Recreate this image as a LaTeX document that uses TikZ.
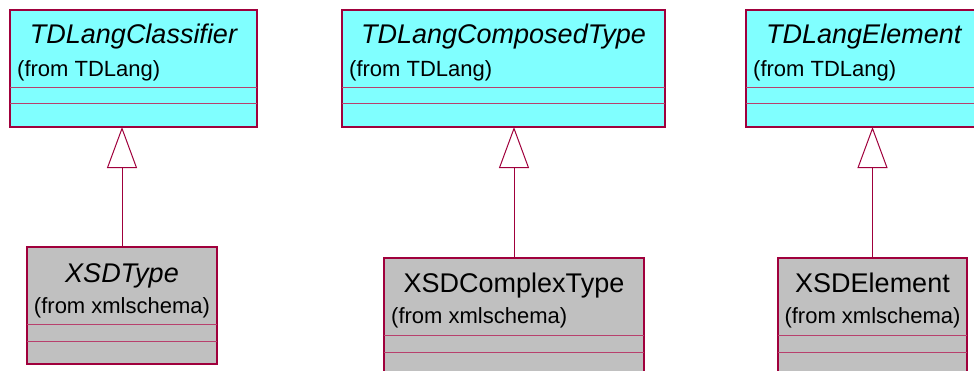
\documentclass[tikz,border=0pt]{standalone}
\usepackage{fontspec}
\setmainfont{Liberation Sans}
\usetikzlibrary{arrows.meta}
\definecolor{roseline}{RGB}{160,0,60}
\definecolor{rosecyan}{RGB}{128,255,255}
\definecolor{rosegray}{RGB}{192,192,192}
\tikzset{
  classbox/.style={draw=roseline, line width=1.2pt, minimum width=#1, minimum height=117pt,
    anchor=north west, inner sep=0pt, outer sep=0pt},
  classname/.style={anchor=base, inner sep=0pt, font=\fontsize{27}{30}\selectfont},
  fromtext/.style={anchor=base west, inner sep=0pt, font=\fontsize{22}{25}\selectfont},
  divider/.style={draw=roseline!75, line width=0.9pt},
  inherit/.style={draw=roseline, line width=1pt,
    -{Triangle[length=41pt, width=30pt, fill=white]}}
}

\begin{document}
\begin{tikzpicture}[x=1pt, y=-1pt]
\useasboundingbox (0,0) rectangle (974,370);
\clip (0,0) rectangle (974,370);

\node[classbox=247pt, fill=rosecyan] (tdc) at (10,10) {};
\node[classname, font=\fontsize{27}{30}\selectfont\itshape] (tdcname) at ([yshift=-33pt]tdc.north) {TDLangClassifier};
\node[fromtext] (tdcfrom) at ([xshift=7pt, yshift=-66pt]tdc.north west) {(from TDLang)};
\draw[divider] ([yshift=-77pt]tdc.north west) -- ([yshift=-77pt]tdc.north east);
\draw[divider] ([yshift=-93pt]tdc.north west) -- ([yshift=-93pt]tdc.north east);

\node[classbox=323pt, fill=rosecyan] (tdct) at (342,10) {};
\node[classname, font=\fontsize{27}{30}\selectfont\itshape] (tdctname) at ([yshift=-33pt]tdct.north) {TDLangComposedType};
\node[fromtext] (tdctfrom) at ([xshift=7pt, yshift=-66pt]tdct.north west) {(from TDLang)};
\draw[divider] ([yshift=-77pt]tdct.north west) -- ([yshift=-77pt]tdct.north east);
\draw[divider] ([yshift=-93pt]tdct.north west) -- ([yshift=-93pt]tdct.north east);

\node[classbox=245pt, fill=rosecyan] (tde) at (746,10) {};
\node[classname, font=\fontsize{27}{30}\selectfont\itshape, anchor=base west] (tdename) at ([xshift=20pt, yshift=-33pt]tde.north west) {TDLangElement};
\node[fromtext] (tdefrom) at ([xshift=7pt, yshift=-66pt]tde.north west) {(from TDLang)};
\draw[divider] ([yshift=-77pt]tde.north west) -- ([yshift=-77pt]tde.north east);
\draw[divider] ([yshift=-93pt]tde.north west) -- ([yshift=-93pt]tde.north east);

\node[classbox=190pt, fill=rosegray] (xt) at (27,247) {};
\node[classname, font=\fontsize{27}{30}\selectfont\itshape] (xtname) at ([yshift=-35pt]xt.north) {XSDType};
\node[fromtext, anchor=base] (xtfrom) at ([yshift=-66pt]xt.north) {(from xmlschema)};
\draw[divider] ([yshift=-77pt]xt.north west) -- ([yshift=-77pt]xt.north east);
\draw[divider] ([yshift=-94pt]xt.north west) -- ([yshift=-94pt]xt.north east);

\node[classbox=260pt, fill=rosegray] (xct) at (384,258) {};
\node[classname] (xctname) at ([yshift=-34pt]xct.north) {XSDComplexType};
\node[fromtext] (xctfrom) at ([xshift=7pt, yshift=-65pt]xct.north west) {(from xmlschema)};
\draw[divider] ([yshift=-77pt]xct.north west) -- ([yshift=-77pt]xct.north east);
\draw[divider] ([yshift=-94pt]xct.north west) -- ([yshift=-94pt]xct.north east);

\node[classbox=189pt, fill=rosegray] (xe) at (778,258) {};
\node[classname] (xename) at ([yshift=-34pt]xe.north) {XSDElement};
\node[fromtext, anchor=base] (xefrom) at ([yshift=-65pt]xe.north) {(from xmlschema)};
\draw[divider] ([yshift=-77pt]xe.north west) -- ([yshift=-77pt]xe.north east);
\draw[divider] ([yshift=-94pt]xe.north west) -- ([yshift=-94pt]xe.north east);

\draw[inherit] (xt.north) -- (xt.north |- tdc.south);
\draw[inherit] (xct.north) -- (xct.north |- tdct.south);
\draw[inherit] (xe.north) -- (xe.north |- tde.south);
\end{tikzpicture}
\end{document}
